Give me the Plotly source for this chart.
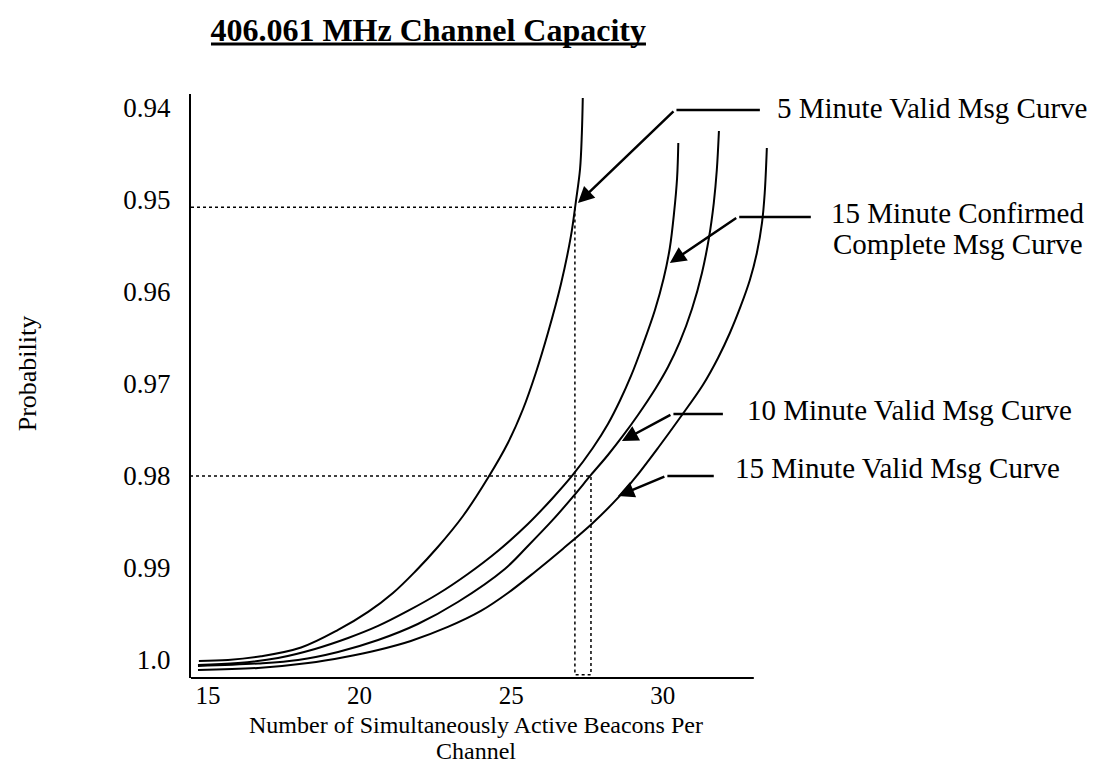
import plotly.graph_objects as go

# values (probability axis runs 0.94 at top to 1.0 at bottom)
x_5min = [14.70, 15.66, 16.75, 18.07, 19.29, 20.28, 21.10, 21.82, 22.58, 23.41, 24.23,
          24.89, 25.39, 25.81, 26.21, 26.64, 26.97, 27.13, 27.27, 27.33, 27.36]
p_5min = [1.0001, 1.0000, 0.99960, 0.99865, 0.99674, 0.99478, 0.99272, 0.99043, 0.98772,
          0.98435, 0.98022, 0.97641, 0.97272, 0.96880, 0.96446, 0.95913, 0.95391, 0.95022,
          0.94663, 0.94272, 0.93891]

x_15conf = [14.67, 15.99, 17.31, 18.53, 19.62, 20.61, 21.59, 22.58, 23.57, 24.56, 25.55,
            26.37, 27.03, 27.69, 28.19, 28.58, 28.95, 29.34, 29.74, 30.03, 30.23, 30.37,
            30.47, 30.51]
p_15conf = [1.00054, 1.00033, 0.99978, 0.99880, 0.99761, 0.99630, 0.99467, 0.99283, 0.99065,
            0.98815, 0.98522, 0.98239, 0.97989, 0.97696, 0.97435, 0.97185, 0.96913, 0.96576,
            0.96196, 0.95848, 0.95522, 0.95141, 0.94761, 0.94380]

x_10min = [14.67, 16.65, 17.97, 19.29, 20.61, 21.92, 23.24, 24.79, 25.55, 26.37, 27.03,
           27.63, 28.19, 28.68, 29.18, 29.77, 30.17, 30.56, 30.96, 31.29, 31.52, 31.68,
           31.78, 31.85]
p_10min = [1.00065, 1.00038, 1.00000, 0.99913, 0.99783, 0.99609, 0.99370, 0.99011, 0.98761,
           0.98478, 0.98228, 0.97989, 0.97772, 0.97565, 0.97337, 0.97043, 0.96815, 0.96543,
           0.96185, 0.95793, 0.95413, 0.95033, 0.94674, 0.94250]

x_15min = [14.67, 16.65, 18.30, 19.52, 20.61, 21.69, 22.91, 24.00, 24.89, 25.78, 26.70,
           27.69, 28.58, 29.11, 29.84, 30.56, 31.32, 31.82, 32.21, 32.57, 32.87, 33.10,
           33.27, 33.36, 33.43]
p_15min = [1.00109, 1.00087, 1.00033, 0.99967, 0.99891, 0.99793, 0.99641, 0.99467, 0.99272,
           0.99043, 0.98793, 0.98511, 0.98217, 0.98011, 0.97696, 0.97370, 0.97011, 0.96717,
           0.96446, 0.96152, 0.95870, 0.95576, 0.95250, 0.94924, 0.94435]

# dotted read-off lines (probability level -> beacon count)
ref_levels = [0.9508, 0.9800]
ref_x = [27.1, 27.63]
ref_floor = 1.0016

x_ticks = [15, 20, 25, 30]
y_ticks = [0.94, 0.95, 0.96, 0.97, 0.98, 0.99, 1.0]
y_tick_text = ["0.94", "0.95", "0.96", "0.97", "0.98", "0.99", "1.0"]

x_min, x_axis_end, x_max = 14.44, 33.0, 33.6
y_bottom, y_top = 1.00196, 0.93848

FONT = "Liberation Serif, Times New Roman, serif"

fig = go.Figure()

for xs, ps in [(x_5min, p_5min), (x_15conf, p_15conf), (x_10min, p_10min), (x_15min, p_15min)]:
    fig.add_trace(go.Scatter(x=xs, y=ps, mode="lines",
                             line=dict(color="black", width=2, shape="spline", smoothing=1.0),
                             showlegend=False, hoverinfo="skip"))

# dotted guide lines
fig.add_trace(go.Scatter(
    x=[x_min, ref_x[0], ref_x[0], ref_x[1], ref_x[1], x_min],
    y=[ref_levels[0], ref_levels[0], ref_floor, ref_floor, ref_levels[1], ref_levels[1]],
    mode="lines", line=dict(color="black", width=1.5, dash="dot"),
    showlegend=False, hoverinfo="skip"))

# x axis line stops short of the last curve
fig.add_shape(type="line", xref="x", yref="paper", x0=x_min, x1=x_axis_end, y0=0, y1=0,
              line=dict(color="black", width=2))
# title underline
fig.add_shape(type="line", xref="paper", yref="paper", x0=0.0344, x1=0.7831, y0=1.0856, y1=1.0856,
              line=dict(color="black", width=3))

# callout arrows: bend point, end of the horizontal leg, arrow tip
arrows = [
    ((30.40, 0.94022), (33.20, 0.94022), (27.20, 0.95033)),
    ((32.47, 0.95185), (34.88, 0.95185), (30.23, 0.95685)),
    ((30.30, 0.97326), (31.98, 0.97326), (28.65, 0.97620)),
    ((30.10, 0.98000), (31.68, 0.98000), (28.52, 0.98217)),
]
for bend, end, tip in arrows:
    fig.add_annotation(x=end[0], y=end[1], ax=bend[0], ay=bend[1], axref="x", ayref="y",
                       text="", showarrow=True, arrowhead=0, arrowwidth=2.5, arrowcolor="black")
    fig.add_annotation(x=tip[0], y=tip[1], ax=bend[0], ay=bend[1], axref="x", ayref="y",
                       text="", showarrow=True, arrowhead=2, arrowsize=1.3, arrowwidth=2.5,
                       arrowcolor="black", standoff=0)

# callout texts in paper coordinates
labels = [
    ("5 Minute Valid Msg Curve", 1.0052, 0.976, "left"),
    ("15 Minute Confirmed", 1.3201, 0.7962, "center"),
    ("Complete Msg Curve", 1.3201, 0.7432, "center"),
    ("10 Minute Valid Msg Curve", 0.9535, 0.4589, "left"),
    ("15 Minute Valid Msg Curve", 0.9329, 0.3596, "left"),
]
for text, lx, ly, anchor in labels:
    fig.add_annotation(xref="paper", yref="paper", x=lx, y=ly, text=text, showarrow=False,
                       xanchor=anchor, yanchor="middle",
                       font=dict(family=FONT, size=29, color="black"))

# axis titles (x title wraps onto two lines)
for text, ty in [("Number of Simultaneously Active Beacons Per", -0.0805), ("Channel", -0.1250)]:
    fig.add_annotation(xref="paper", yref="paper", x=0.4905, y=ty, text=text,
                       showarrow=False, xanchor="center", yanchor="middle",
                       font=dict(family=FONT, size=24, color="black"))
fig.add_annotation(xref="paper", yref="paper", x=-0.282, y=0.522, text="Probability",
                   textangle=-90, showarrow=False, xanchor="center", yanchor="middle",
                   font=dict(family=FONT, size=26, color="black"))

fig.update_layout(
    width=1097, height=767,
    paper_bgcolor="white", plot_bgcolor="white",
    margin=dict(l=183, r=333, t=86, b=97),
    title=dict(text="<b>406.061 MHz Channel Capacity</b>", xref="container", yref="container",
               x=0.383, y=0.971, xanchor="center", yanchor="middle",
               font=dict(family=FONT, size=32, color="black")),
    font=dict(family=FONT, color="black"),
)
fig.update_xaxes(range=[x_min, x_max], tickvals=x_ticks, ticks="", showgrid=False, zeroline=False,
                 showline=False, ticklabelstandoff=0, tickfont=dict(family=FONT, size=25))
fig.update_yaxes(range=[y_bottom, y_top], tickvals=y_ticks, ticktext=y_tick_text, ticks="",
                 showgrid=False, zeroline=False, showline=True, linecolor="black", linewidth=2,
                 ticklabelstandoff=13, tickfont=dict(family=FONT, size=27))

fig.write_html("out.html")
